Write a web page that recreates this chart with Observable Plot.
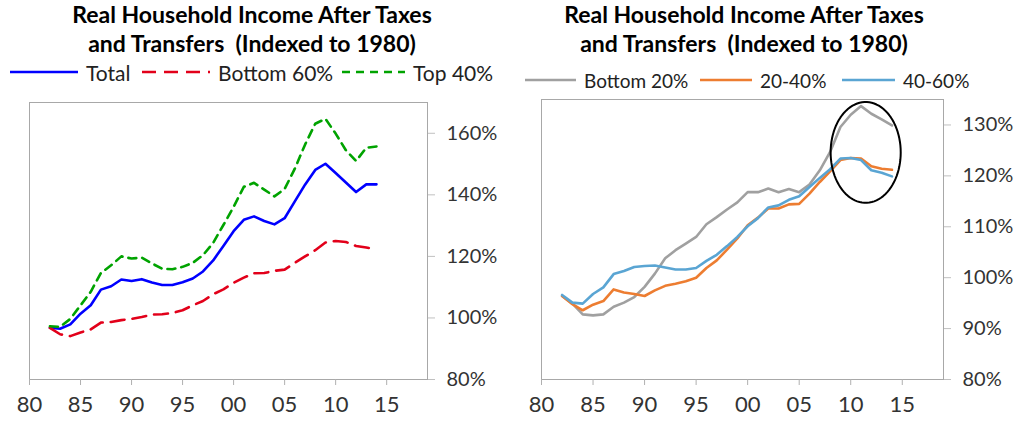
<!DOCTYPE html>
<html>
<head>
<meta charset="utf-8">
<script src="https://cdn.jsdelivr.net/npm/d3@7"></script>
<script src="https://cdn.jsdelivr.net/npm/@observablehq/plot@0.6"></script>
<style>
  html, body { margin: 0; padding: 0; background: #fff; }
  #root { position: relative; width: 1016px; height: 421px; font-family: Lato, "Open Sans", sans-serif; color: #222; overflow: hidden; }
  .title { position: absolute; top: 0px; font-weight: bold; font-size: 23px; line-height: 29px; text-align: center; color: #000; white-space: pre; }
  .leg { position: absolute; display: flex; align-items: center; white-space: nowrap; color: #222; }
  .leg svg { margin-right: 8px; }
  .panel { position: absolute; top: 90px; }
</style>
</head>
<body>
<div id="root"></div>
<script>
// ---------- data ----------
const years = [1982,1983,1984,1985,1986,1987,1988,1989,1990,1991,1992,1993,1994,1995,1996,1997,1998,1999,2000,2001,2002,2003,2004,2005,2006,2007,2008,2009,2010,2011,2012,2013,2014];

// Left panel (percent, 1980 = 100)
const total =    [96.8,96.5,97.9,101.4,104.1,109.2,110.3,112.5,112.0,112.6,111.5,110.7,110.7,111.6,112.8,115.1,118.7,123.4,128.2,131.9,133.0,131.5,130.4,132.4,137.9,143.3,148.1,150.1,147.1,144.0,140.9,143.4,143.4];
const bottom60 = [96.8,94.7,94.1,95.3,96.3,98.5,98.7,99.3,99.7,100.3,101.1,101.2,101.6,102.5,104.1,105.5,107.7,109.3,111.4,113.1,114.5,114.6,115.3,115.7,117.9,120.0,122.0,124.5,125.0,124.7,123.4,122.9,122.2];
const top40 =    [97.3,97.1,99.7,104.1,108.5,114.6,117.1,120.0,119.3,119.6,117.7,116.0,115.8,116.6,117.9,120.4,124.4,130.2,136.1,142.6,143.9,141.7,139.5,141.9,148.5,156.3,163.1,164.7,159.9,154.5,151.0,155.3,155.7];

// Right panel
const bottom20 = [96.4,94.9,92.8,92.6,92.8,94.3,95.1,96.2,98.2,100.8,103.8,105.4,106.7,108.0,110.5,111.9,113.4,114.8,116.8,116.8,117.5,116.8,117.4,116.8,118.3,121.1,124.7,129.6,132.0,133.7,132.2,131.1,129.9];
const q20_40 =   [96.4,94.8,93.6,94.7,95.4,97.7,97.1,96.8,96.4,97.5,98.4,98.8,99.3,100.0,101.9,103.4,105.5,107.7,110.3,111.8,113.6,113.6,114.4,114.5,116.5,118.8,120.9,123.1,123.5,123.4,121.9,121.4,121.2];
const q40_60 =   [96.6,95.1,94.9,96.8,98.1,100.7,101.3,102.1,102.3,102.4,102.0,101.6,101.6,101.9,103.3,104.5,106.2,108.0,110.1,111.7,113.8,114.2,115.3,116.0,117.8,119.6,121.3,123.4,123.5,123.1,121.1,120.6,119.9];

// Tick labels
const xTicks = [1980,1985,1990,1995,2000,2005,2010,2015];
const leftYTicks = [80,100,120,140,160];
const rightYTicks = [80,90,100,110,120,130];

// Annotation ellipse (centre year, centre value, radius in years, radius in %)
const ellipseCenter = [2011.45, 124.6];
const ellipseRadii = [3.4, 9.9];

const titleText = ["Real Household Income After Taxes", "and Transfers  (Indexed to 1980)"];
const leftSeries = [
  {name: "Total", values: total, color: "#0000ff", dash: null},
  {name: "Bottom 60%", values: bottom60, color: "#e2001a", dash: "14,8"},
  {name: "Top 40%", values: top40, color: "#00a300", dash: "8,6"}
];
const rightSeries = [
  {name: "Bottom 20%", values: bottom20, color: "#a0a0a0", dash: null},
  {name: "20-40%", values: q20_40, color: "#ed7d31", dash: null},
  {name: "40-60%", values: q40_60, color: "#5aa5d3", dash: null}
];

// ---------- layout helpers ----------
const root = document.getElementById("root");

function addTitle(left, width) {
  const d = document.createElement("div");
  d.className = "title";
  d.style.left = left + "px";
  d.style.width = width + "px";
  d.textContent = titleText.join("\n");
  root.appendChild(d);
}

function addLegendItem(x, y, swW, s, fs) {
  const d = document.createElement("div");
  d.className = "leg";
  d.style.left = x + "px";
  d.style.top = (y - 13) + "px";
  d.style.height = "26px";
  d.style.fontSize = fs + "px";
  const dash = s.dash ? `stroke-dasharray="${s.dash}"` : "";
  d.innerHTML = `<svg width="${swW}" height="6"><line x1="0" x2="${swW}" y1="3" y2="3" stroke="${s.color}" stroke-width="2.6" ${dash}/></svg><span>${s.name}</span>`;
  root.appendChild(d);
}

function tidy(series) {
  return series.flatMap(s => s.values.map((v, i) => ({series: s.name, year: years[i], value: v})));
}

function makePlot(series, opts) {
  const data = tidy(series);
  const marks = [
    Plot.frame({stroke: "#a8a8a8", strokeWidth: 1}),
    Plot.axisX({ticks: xTicks, tickFormat: d => String(d % 100).padStart(2, "0"), tickSize: 6, tickPadding: 11, stroke: "#b0b0b0", fontSize: 22, color: "#333", label: null}),
    Plot.axisY({anchor: "right", ticks: opts.yTicks, tickFormat: d => d + "%", tickSize: 7, tickPadding: 12, stroke: "#c0c0c0", fontSize: 20, label: null}),
    ...series.map(s => Plot.line(data.filter(d => d.series === s.name), {
      x: "year", y: "value", stroke: s.color, strokeWidth: 2.6, strokeDasharray: s.dash, strokeLinejoin: "round"
    }))
  ];
  if (opts.ellipse) {
    const pts = d3.range(0, 361, 4).map(a => ({
      x: ellipseCenter[0] + ellipseRadii[0] * Math.cos(a * Math.PI / 180),
      y: ellipseCenter[1] + ellipseRadii[1] * Math.sin(a * Math.PI / 180)
    }));
    marks.push(Plot.line(pts, {x: "x", y: "y", stroke: "#000", strokeWidth: 2}));
  }
  return Plot.plot({
    width: 508, height: 331,
    marginTop: opts.mt, marginBottom: 42, marginLeft: opts.ml, marginRight: opts.mr,
    style: {fontFamily: "Lato, 'Open Sans', sans-serif", fontSize: "20px", color: "#333", background: "#fff", overflow: "visible"},
    x: {domain: [1980, 2019], axis: null},
    y: {domain: opts.yDomain, axis: null},
    marks
  });
}

// ---------- left panel ----------
addTitle(0, 504);
addLegendItem(10, 72, 68, leftSeries[0], 21);
addLegendItem(142, 72, 68, leftSeries[1], 21);
addLegendItem(342, 72, 63, leftSeries[2], 21);
const p1 = document.createElement("div");
p1.className = "panel"; p1.style.left = "0px";
p1.appendChild(makePlot(leftSeries, {yDomain: [80, 170], yTicks: leftYTicks, mt: 12, ml: 29, mr: 81}));
root.appendChild(p1);

// ---------- right panel ----------
addTitle(508, 472);
addLegendItem(525, 80, 51, rightSeries[0], 19);
addLegendItem(700, 80, 52, rightSeries[1], 19);
addLegendItem(842, 80, 53, rightSeries[2], 19);
const p2 = document.createElement("div");
p2.className = "panel"; p2.style.left = "508px";
p2.appendChild(makePlot(rightSeries, {yDomain: [80, 135], yTicks: rightYTicks, mt: 9, ml: 33, mr: 73, ellipse: true}));
root.appendChild(p2);
</script>
</body>
</html>
